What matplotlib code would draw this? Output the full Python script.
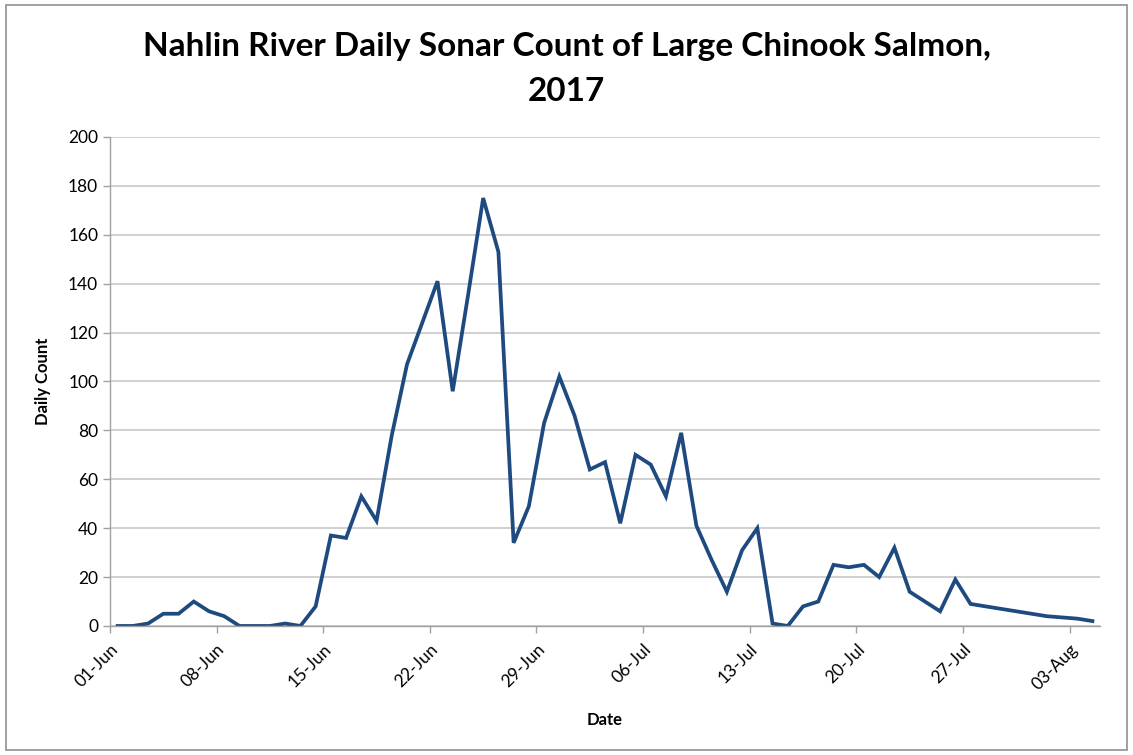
import matplotlib
matplotlib.use("Agg")
import matplotlib.pyplot as plt
import matplotlib.transforms as mtransforms
from matplotlib.patches import Rectangle
import pandas as pd

plt.rcParams["font.family"] = ["Lato", "DejaVu Sans"]

# daily counts, 01-Jun through 04-Aug 2017
start_date = "2017-06-01"
counts = [
    0, 0, 1, 5, 5, 10, 6, 4, 0, 0,
    0, 1, 0, 8, 37, 36, 53, 43, 78, 107,
    124, 141, 96, 135, 175, 153, 34, 49, 83, 102,
    86, 64, 67, 42, 70, 66, 53, 79, 41, 27,
    14, 31, 40, 1, 0, 8, 10, 25, 24, 25,
    20, 32, 14, 10, 6, 19, 9, 8, 7, 6,
    5, 4, 3.5, 3, 2,
]
tick_labels = ["01-Jun", "08-Jun", "15-Jun", "22-Jun", "29-Jun",
               "06-Jul", "13-Jul", "20-Jul", "27-Jul", "03-Aug"]
y_ticks = [0, 20, 40, 60, 80, 100, 120, 140, 160, 180, 200]

dates = pd.date_range(start_date, periods=len(counts), freq="D")
half_day = pd.Timedelta(hours=12)

fig = plt.figure(figsize=(11.33, 7.55), dpi=100)
ax = fig.add_axes([0.0971, 0.1709, 0.8738, 0.6477])

ax.plot(dates, counts, color="#1f4a80", linewidth=2.7, solid_joinstyle="miter")

ax.set_xlim(dates[0] - half_day, dates[-1] + half_day)
ax.set_ylim(0, 200)
ax.set_yticks(y_ticks)
ax.set_xticks(dates[::7] - half_day)
ax.set_xticklabels(tick_labels, rotation=45, ha="right", rotation_mode="anchor")
offset = mtransforms.ScaledTranslation(10 / 100, 0, fig.dpi_scale_trans)
for lbl in ax.get_xticklabels():
    lbl.set_transform(lbl.get_transform() + offset)

ax.grid(axis="y", color="#c8c8c8", linewidth=1.2)
ax.set_axisbelow(True)
for side in ("top", "right"):
    ax.spines[side].set_visible(False)
for side in ("left", "bottom"):
    ax.spines[side].set_color("#a0a0a0")
    ax.spines[side].set_linewidth(1.0)
ax.tick_params(axis="both", colors="#a0a0a0", length=5, width=1.0, labelcolor="black",
               labelsize=12.5)
ax.tick_params(axis="x", pad=6)

ax.set_xlabel("Date", fontsize=12, fontweight="bold", labelpad=14)
ax.set_ylabel("Daily Count", fontsize=12, fontweight="bold", labelpad=12)

fig.text(0.5, 0.957, "Nahlin River Daily Sonar Count of Large Chinook Salmon,\n2017",
         ha="center", va="top", fontsize=24, fontweight="bold", linespacing=1.65)

fig.patches.append(Rectangle((0.005, 0.007), 0.99, 0.986, transform=fig.transFigure,
                             fill=False, edgecolor="#909090", linewidth=1.2))

fig.savefig("out.png", dpi=100)
